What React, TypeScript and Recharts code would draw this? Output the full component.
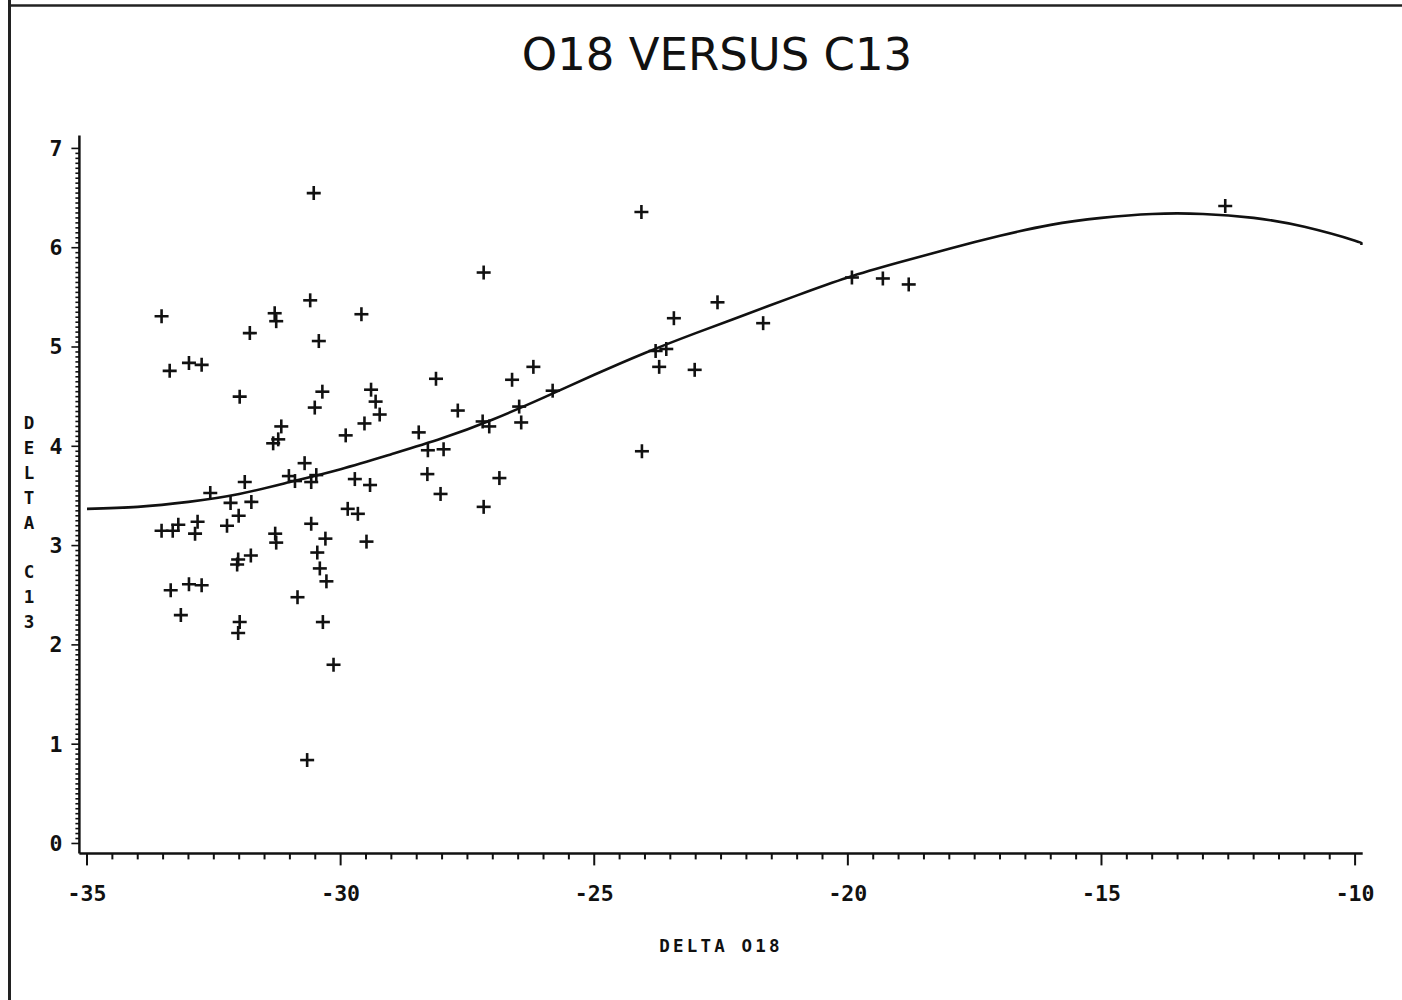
import React from 'react';
import { ComposedChart, Scatter, Line, XAxis, YAxis } from 'recharts';

// Scatter data: delta O18 (x) and delta C13 (y)
const O18 = [
  -30.53, -33.53, -31.30, -31.27, -30.60, -29.59, -31.79, -30.43, -33.37, -32.99,
  -32.74, -31.99, -30.36, -30.51, -29.40, -29.31, -29.23, -29.53, -29.90, -31.17,
  -31.23, -31.33, -30.71, -31.89, -32.57, -31.02, -30.90, -30.58, -30.48, -29.72,
  -29.42, -32.17, -31.76, -32.01, -32.24, -33.53, -33.31, -33.20, -32.82, -32.87,
  -29.86, -29.66, -30.58, -30.30, -29.49, -31.29, -31.27, -30.46, -30.41, -30.28,
  -32.02, -32.04, -31.77, -33.35, -32.99, -32.74, -33.15, -31.99, -32.02, -30.85,
  -30.35, -30.14, -30.66, -24.07, -27.18, -28.12, -26.62, -26.20, -27.69, -28.46,
  -28.28, -27.97, -28.29, -28.03, -27.18, -26.87, -27.20, -27.07, -26.48, -26.44,
  -25.82, -23.79, -23.58, -23.72, -23.43, -22.57, -21.67, -23.02, -24.06, -19.92,
  -19.31, -18.80, -12.56,
];
const C13 = [
  6.55, 5.31, 5.34, 5.26, 5.47, 5.33, 5.14, 5.06, 4.76, 4.84,
  4.82, 4.50, 4.55, 4.39, 4.57, 4.45, 4.32, 4.23, 4.11, 4.20,
  4.07, 4.03, 3.83, 3.64, 3.53, 3.70, 3.65, 3.64, 3.71, 3.67,
  3.61, 3.43, 3.44, 3.30, 3.20, 3.15, 3.15, 3.21, 3.24, 3.12,
  3.37, 3.32, 3.22, 3.07, 3.04, 3.12, 3.03, 2.93, 2.77, 2.64,
  2.86, 2.81, 2.90, 2.55, 2.61, 2.60, 2.30, 2.23, 2.12, 2.48,
  2.23, 1.80, 0.84, 6.36, 5.75, 4.68, 4.67, 4.80, 4.36, 4.14,
  3.96, 3.97, 3.72, 3.52, 3.39, 3.68, 4.25, 4.20, 4.40, 4.24,
  4.56, 4.96, 4.98, 4.80, 5.29, 5.45, 5.24, 4.77, 3.95, 5.70,
  5.69, 5.63, 6.42,
];

// Fitted curve
const CURVE_X = [-35, -34, -33, -32, -31, -30, -29, -28, -27, -26, -25, -24, -23, -22, -21, -20, -19, -18, -17, -16, -15, -14, -13, -12, -11, -10, -9.9];
const CURVE_Y = [3.37, 3.39, 3.44, 3.52, 3.64, 3.77, 3.92, 4.08, 4.27, 4.49, 4.72, 4.94, 5.14, 5.33, 5.52, 5.70, 5.85, 5.99, 6.12, 6.23, 6.30, 6.34, 6.34, 6.30, 6.21, 6.07, 6.04];

const X_MAJOR = [-35, -30, -25, -20, -15, -10];
const Y_MAJOR = [0, 1, 2, 3, 4, 5, 6, 7];
const X_MINOR_STEP = 0.5;
const Y_MINOR_STEP = 0.05;

const TITLE = 'O18 VERSUS C13';
const X_LABEL = 'DELTA O18';
const Y_LABEL = 'DELTA C13';

const points = O18.map((x, i) => ({ x, y: C13[i] }));
const curve = CURVE_X.map((x, i) => ({ x, y: CURVE_Y[i] }));

const buildTicks = (lo: number, hi: number, step: number) => {
  const n = Math.round((hi - lo) / step);
  const arr: number[] = [];
  for (let i = 0; i <= n; i++) arr.push(Math.round((lo + i * step) * 1000) / 1000);
  return arr;
};
const xTicks = buildTicks(X_MAJOR[0], X_MAJOR[X_MAJOR.length - 1], X_MINOR_STEP);
const yTicks = buildTicks(Y_MAJOR[0], Y_MAJOR[Y_MAJOR.length - 1], Y_MINOR_STEP);

const isMajor = (v: number, majors: number[]) => majors.some((m) => Math.abs(m - v) < 1e-6);

const TICK_FONT = '"DejaVu Sans Mono", monospace';

const XTick = (props: any) => {
  const { x, y, payload } = props;
  const v = payload.value;
  const major = isMajor(v, X_MAJOR);
  return (
    <g>
      <line x1={x} y1={y} x2={x} y2={y + (major ? 12 : 6)} stroke="#111" strokeWidth={2} />
      {major && (
        <text x={x} y={y + 48} textAnchor="middle" fontFamily={TICK_FONT} fontWeight="bold" fontSize={21.5} fill="#111">
          {String(v)}
        </text>
      )}
    </g>
  );
};

const YTick = (props: any) => {
  const { x, y, payload } = props;
  const v = payload.value;
  const major = isMajor(v, Y_MAJOR);
  return (
    <g>
      <line x1={x} y1={y} x2={x - (major ? 8 : 4)} y2={y} stroke="#111" strokeWidth={1.6} />
      {major && (
        <text x={x - 17} y={y + 7.5} textAnchor="end" fontFamily={TICK_FONT} fontWeight="bold" fontSize={21.5} fill="#111">
          {String(v)}
        </text>
      )}
    </g>
  );
};

const Cross = (props: any) => {
  const { cx, cy } = props;
  if (cx == null || cy == null) return null;
  return (
    <g>
      <line x1={cx - 7} y1={cy} x2={cx + 7} y2={cy} stroke="#111" strokeWidth={2.6} />
      <line x1={cx} y1={cy - 7} x2={cx} y2={cy + 7} stroke="#111" strokeWidth={2.6} />
    </g>
  );
};

export default function App() {
  const yLetters = Y_LABEL.split('');
  return (
    <div style={{ position: 'absolute', left: 0, top: 0, width: 1402, height: 1000, background: '#fff' }}>
      <ComposedChart
        width={1402}
        height={1000}
        margin={{ top: 135.5, right: 39.3, bottom: 106.6, left: 19.4 }}
      >
        <XAxis
          type="number"
          dataKey="x"
          domain={[-35.15, -9.85]}
          allowDataOverflow
          ticks={xTicks}
          interval={0}
          tick={<XTick />}
          tickLine={false}
          tickSize={0}
          tickMargin={0}
          height={40}
          axisLine={{ stroke: '#111', strokeWidth: 2.5 }}
        />
        <YAxis
          type="number"
          dataKey="y"
          domain={[-0.1, 7.13]}
          allowDataOverflow
          ticks={yTicks}
          interval={0}
          tick={<YTick />}
          tickLine={false}
          tickSize={0}
          tickMargin={0}
          width={60}
          axisLine={{ stroke: '#111', strokeWidth: 2.5 }}
        />
        <Line
          data={curve}
          dataKey="y"
          type="natural"
          stroke="#111"
          strokeWidth={2.6}
          dot={false}
          activeDot={false}
          isAnimationActive={false}
        />
        <Scatter data={points} dataKey="y" shape={<Cross />} isAnimationActive={false} />
      </ComposedChart>
      <svg
        width={1402}
        height={1000}
        style={{ position: 'absolute', left: 0, top: 0, pointerEvents: 'none' }}
      >
        <line x1={9.5} y1={0} x2={9.5} y2={1000} stroke="#222" strokeWidth={3} />
        <line x1={8} y1={5.5} x2={1402} y2={5.5} stroke="#222" strokeWidth={2.5} />
        <text x={717} y={70} textAnchor="middle" fontFamily='"DejaVu Sans", sans-serif' fontSize={45} fill="#111">
          {TITLE}
        </text>
        <text
          x={721}
          y={952}
          textAnchor="middle"
          fontFamily={TICK_FONT}
          fontWeight="bold"
          fontSize={17.5}
          letterSpacing={3.2}
          fill="#111"
        >
          {X_LABEL}
        </text>
        <text fontFamily={TICK_FONT} fontWeight="bold" fontSize={17.5} fill="#111" textAnchor="middle">
          {yLetters.map((ch, i) => (
            <tspan key={i} x={29} y={429 + i * 24.9}>
              {ch === ' ' ? '\u00a0' : ch}
            </tspan>
          ))}
        </text>
      </svg>
    </div>
  );
}
